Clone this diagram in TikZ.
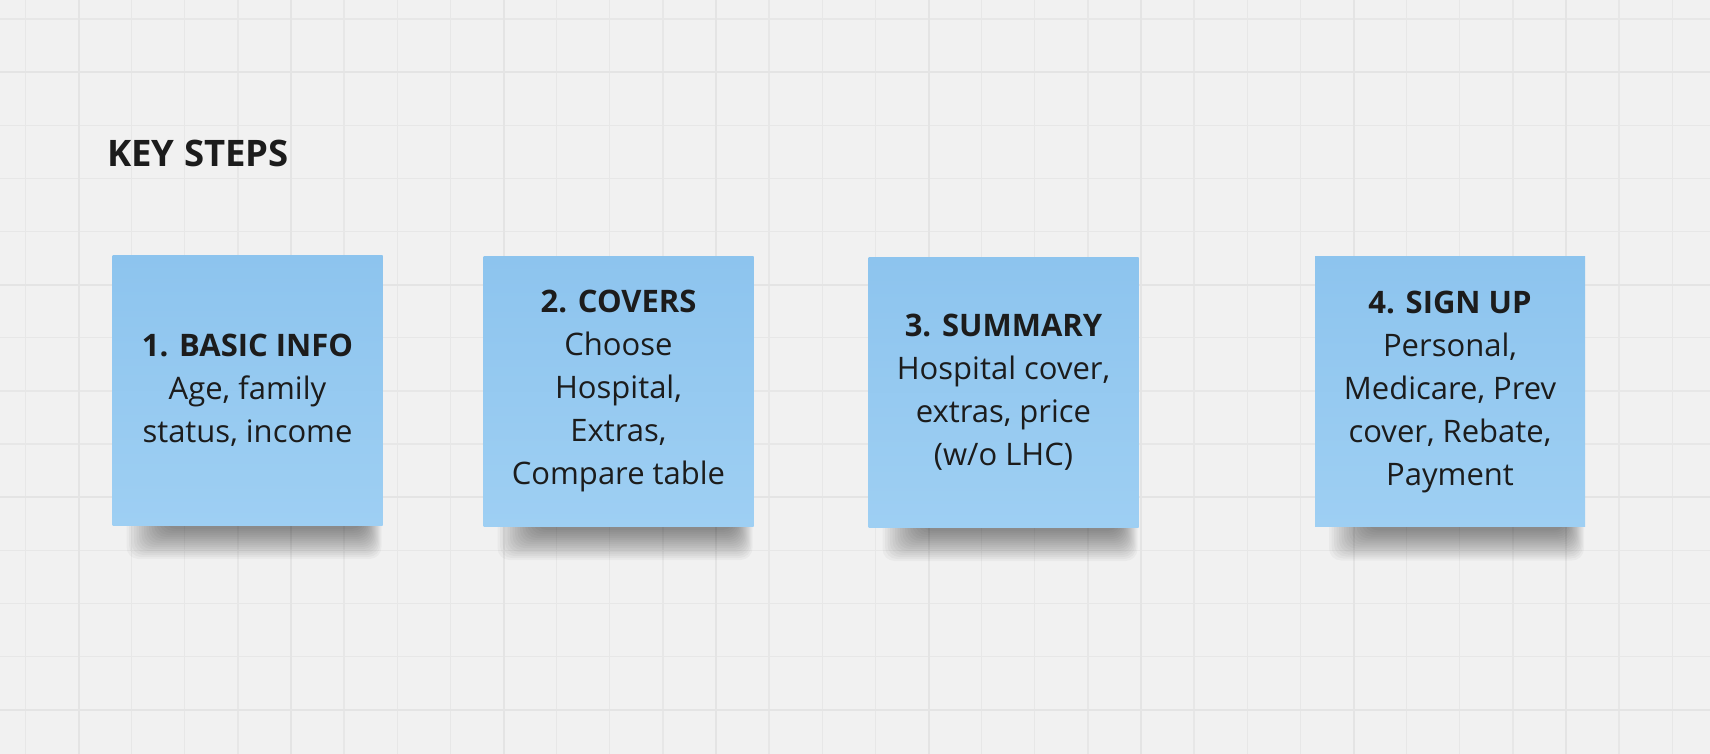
\documentclass[tikz,border=0pt]{standalone}
\usepackage{fontspec}
\setmainfont{Open Sans}
\usetikzlibrary{calc,backgrounds}
\definecolor{board}{HTML}{F1F1F1}
\definecolor{gridminor}{HTML}{E7E7E7}
\definecolor{gridmajor}{HTML}{E4E4E4}
\definecolor{notetop}{HTML}{8DC4EE}
\definecolor{notebottom}{HTML}{9ECFF3}
\definecolor{ink}{HTML}{1C1C1C}

\begin{document}
\begin{tikzpicture}[x=1pt,y=-1pt]
\tikzstyle{note}=[outer sep=0pt,inner sep=0pt,minimum width=270pt,minimum height=270pt,top color=notetop,bottom color=notebottom,align=center,text=ink,font=\fontsize{31}{43}\selectfont]

\tikzstyle{gridline}=[gridminor,line width=1.4pt]
\tikzstyle{gridbold}=[gridmajor,line width=2pt]
\tikzstyle{dropshadow}=[black,opacity=0.03,rounded corners=12pt]

\useasboundingbox (0,0) rectangle (1710,754);

\node (title) [anchor=base west,inner sep=0pt,text=ink,font=\bfseries\fontsize{36.5}{44}\selectfont] at (107,167) {KEY STEPS};

\node (basic) [note] at (247.5,390) {\textbf{1. BASIC INFO}\\Age, family\\status, income};
\node (covers) [note] at (618.5,391) {\textbf{2. COVERS}\\Choose\\Hospital,\\Extras,\\Compare table};
\node (summary) [note] at (1003.5,392) {\textbf{3. SUMMARY}\\Hospital cover,\\extras, price\\(w/o LHC)};
\node (signup) [note] at (1450,391.5) {\textbf{4. SIGN UP}\\Personal,\\Medicare, Prev\\cover, Rebate,\\Payment};

\begin{scope}[on background layer]
\fill [board] (0,0) rectangle (1710,754);
\foreach \i in {0,...,31} \draw [gridline] ({25.4+53.125*\i},0) -- ({25.4+53.125*\i},754);
\foreach \j in {0,...,13} \draw [gridline] (0,{19+53.125*\j}) -- (1710,{19+53.125*\j});
\foreach \i in {1,5,...,29} \draw [gridbold] ({25.4+53.125*\i},0) -- ({25.4+53.125*\i},754);
\foreach \j in {1,5,9,13} \draw [gridbold] (0,{19+53.125*\j}) -- (1710,{19+53.125*\j});

\foreach \sticky in {basic,covers,summary,signup}
  \foreach \k in {0,...,15}
    \fill [dropshadow] ($(\sticky.south west)+(14+2.5*\k,-14)$) rectangle ($(\sticky.south east)+(-1-1.2*\k,34-2*\k)$);
\end{scope}

\end{tikzpicture}
\end{document}
